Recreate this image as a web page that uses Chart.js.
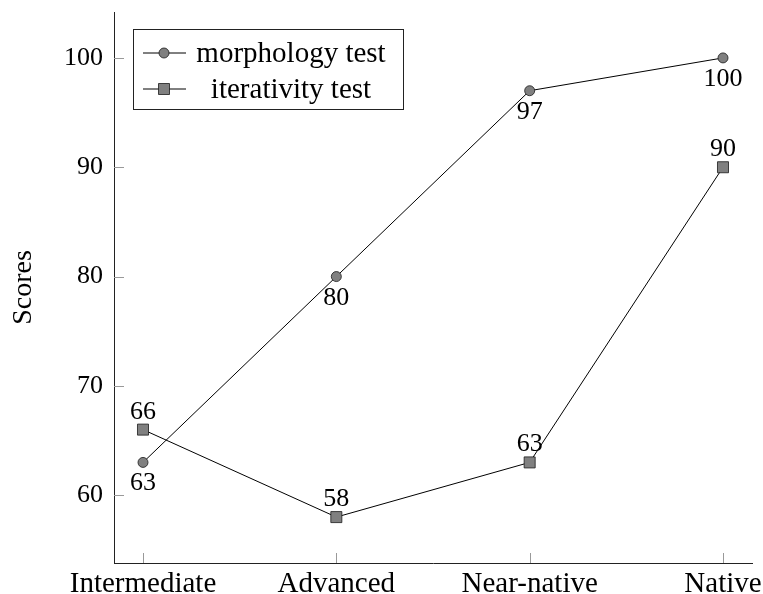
<!DOCTYPE html>
<html>
<head>
<meta charset="utf-8">
<script src="https://cdn.jsdelivr.net/npm/chart.js@4/dist/chart.umd.min.js"></script>
<style>
  body { margin: 0; background: #fff; }
  #wrap { width: 763px; height: 594px; }
</style>
</head>
<body>
<div id="wrap"><canvas id="myChart"></canvas></div>
<script>
var categories = ["Intermediate", "Advanced", "Near-native", "Native"];
var morphology = [63, 80, 97, 100];
var iterativity = [66, 58, 63, 90];
var yTicks = [60, 70, 80, 90, 100];
var seriesNames = ["morphology test", "iterativity test"];

var FONT = "'Liberation Serif', 'Times New Roman', serif";
var NUM_SIZE = 26;   // digits
var WORD_SIZE = 29;  // words
Chart.defaults.font.family = FONT;
Chart.defaults.font.size = NUM_SIZE;
Chart.defaults.color = "#000";

function toPoints(arr) {
  return arr.map(function (v, i) { return { x: i, y: v }; });
}

// small inward tick marks like pgfplots
var tickMarks = {
  id: "tickMarks",
  afterDraw: function (chart) {
    var ctx = chart.ctx, xs = chart.scales.x, ys = chart.scales.y, a = chart.chartArea;
    ctx.save();
    ctx.strokeStyle = "#999";
    ctx.lineWidth = 1;
    ctx.beginPath();
    categories.forEach(function (c, i) {
      var px = Math.round(xs.getPixelForValue(i)) + 0.5;
      ctx.moveTo(px, a.bottom);
      ctx.lineTo(px, a.bottom - 10);
    });
    yTicks.forEach(function (v) {
      var py = Math.round(ys.getPixelForValue(v)) + 0.5;
      ctx.moveTo(a.left, py);
      ctx.lineTo(a.left + 10, py);
    });
    ctx.stroke();
    ctx.restore();
  }
};

// value labels: morphology below, iterativity above
var valueLabels = {
  id: "valueLabels",
  afterDatasetsDraw: function (chart) {
    var ctx = chart.ctx;
    ctx.save();
    ctx.font = NUM_SIZE + "px " + FONT;
    ctx.fillStyle = "#000";
    ctx.textAlign = "center";
    ctx.textBaseline = "alphabetic";
    chart.data.datasets.forEach(function (ds, di) {
      var meta = chart.getDatasetMeta(di);
      meta.data.forEach(function (pt, i) {
        var off = di === 0 ? 28 : -11;
        ctx.fillText(String(ds.data[i].y), pt.x, pt.y + off);
      });
    });
    ctx.restore();
  }
};

// boxed legend inside the plot, top-left
var boxLegend = {
  id: "boxLegend",
  afterDraw: function (chart) {
    var ctx = chart.ctx;
    var bx = 133.5, by = 29.5, bw = 270, bh = 80;
    ctx.save();
    ctx.fillStyle = "#fff";
    ctx.fillRect(bx, by, bw, bh);
    ctx.strokeStyle = "#222";
    ctx.lineWidth = 1;
    ctx.strokeRect(bx, by, bw, bh);
    var rows = [53, 89];
    ctx.font = WORD_SIZE + "px " + FONT;
    ctx.textAlign = "center";
    ctx.textBaseline = "middle";
    rows.forEach(function (ry, i) {
      ctx.strokeStyle = "#000";
      ctx.lineWidth = 1;
      ctx.beginPath();
      ctx.moveTo(143, ry);
      ctx.lineTo(186, ry);
      ctx.stroke();
      ctx.fillStyle = "#808080";
      ctx.strokeStyle = "#1a1a1a";
      ctx.lineWidth = 0.8;
      ctx.beginPath();
      if (i === 0) {
        ctx.arc(164, ry, 5, 0, Math.PI * 2);
      } else {
        ctx.rect(158.5, ry - 5.5, 11, 11);
      }
      ctx.fill();
      ctx.stroke();
      ctx.fillStyle = "#000";
      ctx.fillText(seriesNames[i], 291, ry + 1);
    });
    ctx.restore();
  }
};

new Chart("myChart", {
  type: "line",
  data: {
    datasets: [{
      label: seriesNames[0],
      data: toPoints(morphology),
      borderColor: "#000",
      borderWidth: 1,
      backgroundColor: "#808080",
      pointStyle: "circle",
      pointRadius: 5,
      pointBorderColor: "#1a1a1a",
      pointBorderWidth: 0.8,
      fill: false
    }, {
      label: seriesNames[1],
      data: toPoints(iterativity),
      borderColor: "#000",
      borderWidth: 1,
      backgroundColor: "#808080",
      pointStyle: "rect",
      pointRadius: 7.8,
      pointBorderColor: "#1a1a1a",
      pointBorderWidth: 0.8,
      fill: false
    }]
  },
  options: {
    responsive: true,
    maintainAspectRatio: false,
    animation: false,
    events: [],
    layout: { padding: { top: 12, right: 11, left: 0, bottom: 0 } },
    plugins: {
      legend: { display: false },
      tooltip: { enabled: false }
    },
    scales: {
      x: {
        type: "linear",
        min: -0.15,
        max: 3.15,
        grid: { display: false, drawTicks: false },
        border: { display: true, color: "#222", width: 1 },
        afterBuildTicks: function (scale) {
          scale.ticks = categories.map(function (c, i) { return { value: i }; });
        },
        ticks: {
          padding: 4,
          maxRotation: 0,
          autoSkip: false,
          font: { size: WORD_SIZE },
          callback: function (v) { return categories[v]; }
        },
        afterFit: function (scale) {
          scale.height = 31;
          scale.paddingLeft = 0;
          scale.paddingRight = 0;
        }
      },
      y: {
        min: 53.8,
        max: 104.2,
        grid: { display: false, drawTicks: false },
        border: { display: true, color: "#222", width: 1 },
        afterBuildTicks: function (scale) {
          scale.ticks = yTicks.map(function (v) { return { value: v }; });
        },
        ticks: { padding: 11 },
        title: {
          display: true,
          text: "Scores",
          padding: { top: 7, bottom: 0 },
          font: { size: 28 }
        },
        afterFit: function (scale) {
          scale.width = 114;
          scale.paddingTop = 0;
          scale.paddingBottom = 0;
        }
      }
    }
  },
  plugins: [tickMarks, valueLabels, boxLegend]
});
</script>
</body>
</html>
